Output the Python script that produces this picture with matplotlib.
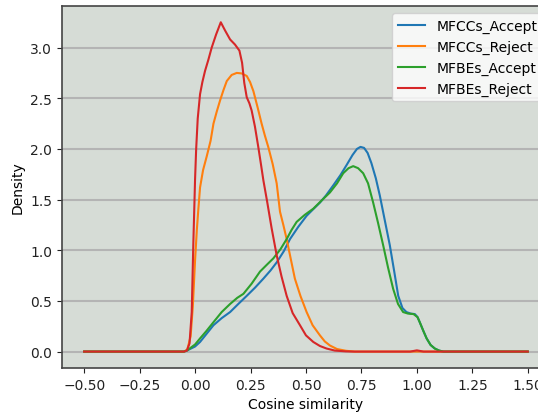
import matplotlib
matplotlib.use("Agg")
import matplotlib.pyplot as plt

# ── Data (x = cosine similarity, y = density) ────────────────────────────────
series_names = ["MFCCs_Accept", "MFCCs_Reject", "MFBEs_Accept", "MFBEs_Reject"]

mfccs_accept_x = [-0.5, -0.05, -0.037, 0.0, 0.0225, 0.05, 0.083, 0.12, 0.158, 0.195,
                  0.233, 0.27, 0.308, 0.34, 0.368, 0.40, 0.428, 0.465, 0.503, 0.535,
                  0.563, 0.59, 0.623, 0.655, 0.683, 0.71, 0.73, 0.746, 0.762, 0.778,
                  0.795, 0.815, 0.833, 0.855, 0.878, 0.898, 0.916, 0.935, 0.953, 0.972,
                  0.991, 1.003, 1.013, 1.03, 1.044, 1.062, 1.081, 1.10, 1.12, 1.5]
mfccs_accept_y = [0.0, 0.0, 0.01, 0.05, 0.095, 0.17, 0.26, 0.33, 0.39, 0.47,
                  0.55, 0.63, 0.72, 0.80, 0.88, 0.99, 1.11, 1.23, 1.34, 1.41,
                  1.47, 1.54, 1.64, 1.74, 1.84, 1.94, 2.0, 2.02, 2.01, 1.96,
                  1.86, 1.71, 1.54, 1.30, 1.05, 0.79, 0.55, 0.43, 0.39, 0.375,
                  0.37, 0.34, 0.29, 0.20, 0.13, 0.065, 0.03, 0.01, 0.0, 0.0]

mfccs_reject_x = [-0.5, -0.05, -0.035, -0.02, -0.01, 0.0, 0.008, 0.015, 0.0225, 0.036,
                  0.053, 0.07, 0.083, 0.098, 0.113, 0.128, 0.143, 0.165, 0.188, 0.21,
                  0.233, 0.248, 0.263, 0.282, 0.30, 0.315, 0.33, 0.35, 0.368, 0.383,
                  0.398, 0.413, 0.43, 0.45, 0.475, 0.503, 0.53, 0.563, 0.585, 0.608,
                  0.64, 0.68, 0.72, 1.5]
mfccs_reject_y = [0.0, 0.0, 0.02, 0.15, 0.45, 0.9, 1.2, 1.41, 1.62, 1.79,
                  1.93, 2.08, 2.25, 2.37, 2.48, 2.58, 2.67, 2.73, 2.75, 2.745,
                  2.72, 2.66, 2.57, 2.41, 2.25, 2.13, 2.02, 1.85, 1.66, 1.38,
                  1.25, 1.11, 0.93, 0.72, 0.55, 0.39, 0.26, 0.16, 0.10, 0.06,
                  0.025, 0.008, 0.0, 0.0]

mfbes_accept_x = [-0.5, -0.05, -0.037, 0.0, 0.0225, 0.05, 0.083, 0.12, 0.158, 0.19,
                  0.218, 0.255, 0.293, 0.325, 0.353, 0.385, 0.413, 0.435, 0.458, 0.495,
                  0.533, 0.57, 0.608, 0.64, 0.668, 0.692, 0.713, 0.735, 0.758, 0.78,
                  0.803, 0.825, 0.848, 0.87, 0.893, 0.915, 0.938, 0.96, 0.985, 1.003,
                  1.013, 1.03, 1.044, 1.062, 1.081, 1.10, 1.12, 1.5]
mfbes_accept_y = [0.0, 0.0, 0.01, 0.07, 0.13, 0.2, 0.29, 0.39, 0.47, 0.53,
                  0.57, 0.67, 0.79, 0.86, 0.92, 1.01, 1.11, 1.20, 1.28, 1.35,
                  1.41, 1.49, 1.57, 1.66, 1.76, 1.81, 1.83, 1.81, 1.76, 1.66,
                  1.47, 1.27, 1.05, 0.83, 0.62, 0.47, 0.39, 0.375, 0.37, 0.34,
                  0.29, 0.20, 0.13, 0.065, 0.03, 0.01, 0.0, 0.0]

mfbes_reject_x = [-0.5, -0.05, -0.037, -0.025, -0.015, -0.008, -0.003, 0.0, 0.005, 0.012,
                  0.0225, 0.033, 0.045, 0.06, 0.075, 0.095, 0.116, 0.135, 0.158, 0.18,
                  0.2, 0.212, 0.222, 0.233, 0.245, 0.255, 0.27, 0.285, 0.297, 0.308,
                  0.325, 0.345, 0.368, 0.39, 0.413, 0.44, 0.473, 0.50, 0.533, 0.563,
                  0.593, 0.63, 0.68, 0.72, 0.97, 1.0, 1.03, 1.5]
mfbes_reject_y = [0.0, 0.0, 0.01, 0.08, 0.39, 1.05, 1.45, 1.70, 2.0, 2.3,
                  2.54, 2.66, 2.77, 2.88, 3.0, 3.13, 3.25, 3.17, 3.08, 3.03,
                  2.97, 2.85, 2.65, 2.51, 2.45, 2.38, 2.22, 2.02, 1.85, 1.69,
                  1.48, 1.22, 0.95, 0.74, 0.55, 0.38, 0.26, 0.16, 0.095, 0.055,
                  0.03, 0.01, 0.002, 0.0, 0.0, 0.012, 0.0, 0.0]

xs = [mfccs_accept_x, mfccs_reject_x, mfbes_accept_x, mfbes_reject_x]
ys = [mfccs_accept_y, mfccs_reject_y, mfbes_accept_y, mfbes_reject_y]
colors = ["#1f77b4", "#ff7f0e", "#2ca02c", "#d62728"]

# ── Figure ────────────────────────────────────────────────────────────────────
fig = plt.figure(figsize=(5.38, 4.14), dpi=100)
# axes run past the right edge, as in the (cropped) reference
ax = fig.add_axes([0.1152, 0.1087, 0.907, 0.8743])
ax.set_facecolor("#d6dcd6")

for x, y, c, name in zip(xs, ys, colors, series_names):
    ax.plot(x, y, color=c, lw=1.5, label=name)

ax.set_xlim(-0.6, 1.6)
ax.set_ylim(-0.162, 3.41)
ax.set_xticks([-0.5, -0.25, 0.0, 0.25, 0.5, 0.75, 1.0, 1.25, 1.5])
ax.set_yticks([0.0, 0.5, 1.0, 1.5, 2.0, 2.5, 3.0])
ax.yaxis.grid(True, color="#b4b4b4", lw=1.5)
ax.set_axisbelow(True)

for s in ax.spines.values():
    s.set_color("#444444")
    s.set_linewidth(1.2)
ax.tick_params(colors="#222222")

ax.set_xlabel("Cosine similarity")
ax.set_ylabel("Density")
ax.legend(loc="upper right")

fig.savefig("out.png", dpi=100)
